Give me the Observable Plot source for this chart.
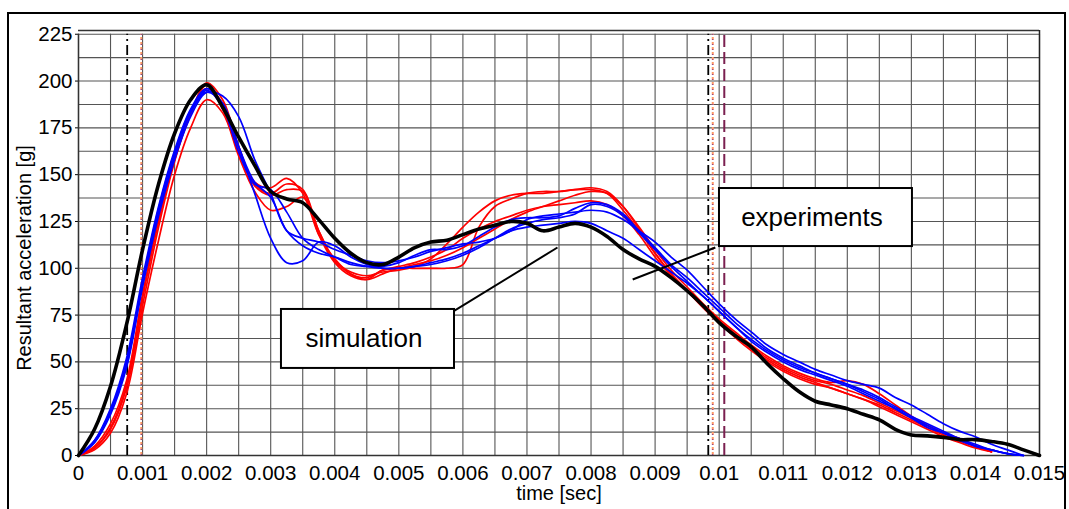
<!DOCTYPE html>
<html><head><meta charset="utf-8">
<script src="https://cdn.jsdelivr.net/npm/d3@7"></script>
<script src="https://cdn.jsdelivr.net/npm/@observablehq/plot@0.6"></script>
<style>
body{margin:0;background:#fff;}
#wrap{position:relative;width:1069px;height:509px;overflow:hidden;font-family:"Liberation Sans",Arial,sans-serif;}
#chart{position:absolute;left:0;top:0;}
#chart g[aria-label="x-axis tick label"], #chart g[aria-label="y-axis tick label"]{font-size:20.5px;}
#frame{position:absolute;left:7px;top:12px;width:1059px;height:600px;border:2px solid #000;box-sizing:border-box;pointer-events:none;}
#titles{position:absolute;left:0;top:0;pointer-events:none;font-family:"Liberation Sans",Arial,sans-serif;}
</style></head>
<body>
<div id="wrap">
<div id="chart"></div>
<svg id="titles" width="1069" height="509">
  <text x="31" y="258" transform="rotate(-90 31 258)" text-anchor="middle" font-size="20" fill="#000">Resultant acceleration [g]</text>
  <text x="559" y="500" text-anchor="middle" font-size="20" fill="#000">time [sec]</text>
</svg>
<div id="frame"></div>
</div>
<script>
// time samples [sec]
const time = [0,0.00025,0.0005,0.00075,0.001,0.00125,0.0015,0.00175,0.002,0.00225,
  0.0025,0.00275,0.003,0.00325,0.0035,0.00375,0.004,0.00425,0.0045,0.00475,
  0.005,0.00525,0.0055,0.00575,0.006,0.00625,0.0065,0.00675,0.007,0.00725,
  0.0075,0.00775,0.008,0.00825,0.0085,0.00875,0.009,0.00925,0.0095,0.00975,
  0.01,0.01025,0.0105,0.01075,0.011,0.01125,0.0115,0.01175,0.012,0.01225,
  0.0125,0.01275,0.013,0.01325,0.0135,0.01375,0.014,0.01425,0.0145,0.01475,0.015];

// simulation (black)
const simulation = [0,14,37,70,110,145,172,190,198,186,170,155,141,137,135,126,116,108,103,102,
  106,111,114,115,118,121,123,125,124,120,122,124,122,117,110,105,101,95,88,80,
  71,64,58,49,41,34,29,27,25,22,19,14,11,10.5,9.7,8.5,8.5,7.5,6,3,0];

// experiments, red
const red1 = [0,4,14,36,80,122,157,183,198,185,162,146,143,148,140,118,105,97,95,99,
  101,103,106,110,116,121,125,128,131,133,134,135,136,134,128,118,106,96,88,80,
  72,65,58,52,47,43,40,38,35,32,28,24,20,16,12,9,5,2];
const red2 = [0,3,12,33,76,115,150,175,190,183,160,141,131,133,138,120,104,97,94,97,
  100,100,100,100,102,122,133,137,140,141,141,142,142,140,131,120,108,97,88,79,
  71,63,56,50,45,41,38,36,33,30,27,23,19,15,11,8,5,2];
const red3 = [0,4,15,38,84,125,158,182,199,190,165,145,140,145,142,120,104,98,96,98,
  99,101,105,113,122,130,136,139,140,140,141,142,143,141,133,121,108,97,88,79,
  71,64,57,51,46,42,39,36,33,30,26,22,18,14,10,7,4,2];
const red4 = [0,5,17,40,86,127,160,184,196,188,163,144,139,142,141,118,103,96,94,99,
  100,102,104,107,111,116,121,126,130,133,136,139,141,140,133,122,110,99,90,81,
  73,66,59,53,48,44,41,39,40,38,33,27,21,16,12,8,5,2];

// experiments, blue
const blue1 = [0,8,24,50,93,132,162,184,194,188,165,140,116,103,104,114,112,106,102,100,
  100,101,103,105,108,112,116,120,122,123,124,125,124,120,116,110,104,98,92,85,
  77,69,62,56,51,47,44,41,38,34,30,25,20,16,12,9,5,3,1,0];
const blue2 = [0,7,22,47,90,128,158,181,194,192,181,158,140,120,116,114,110,107,104,103,
  104,106,109,111,113,114,116,120,126,128,129,130,131,130,126,120,114,106,99,90,
  81,73,66,59,54,50,46,43,40,38,36,31,27,22,17,13,10,6,3,0];
const blue3 = [0,8,25,52,95,133,163,185,196,188,165,146,138,120,112,108,106,103,101,100,
  100,101,102,104,107,111,116,121,124,126,127,129,134,133,128,119,110,101,93,85,
  77,69,61,55,50,46,43,40,37,33,29,25,20,15,12,8,5,3,1,0];
const blue4 = [0,7,23,48,92,130,160,183,195,186,162,145,142,130,116,110,106,102,101,101,
  103,107,110,110,112,117,122,126,127,127,128,132,135,134,129,120,111,102,95,87,
  79,71,64,57,52,48,44,41,38,35,31,26,21,17,13,9,6,3,1,0];

const redSeries = [red1, red2, red3, red4];
const blueSeries = [blue1, blue2, blue3, blue4];

// axes
const xTicks = [0,0.001,0.002,0.003,0.004,0.005,0.006,0.007,0.008,0.009,0.01,0.011,0.012,0.013,0.014,0.015];
const yTicks = [0,25,50,75,100,125,150,175,200,225];
const xGrid = [0,0.0005,0.001,0.0015,0.002,0.0025,0.003,0.0035,0.004,0.0045,0.005,0.0055,0.006,0.0065,0.007,0.0075,
  0.008,0.0085,0.009,0.0095,0.01,0.0105,0.011,0.0115,0.012,0.0125,0.013,0.0135,0.014,0.0145,0.015];
const yGrid = [12.5,25,37.5,50,62.5,75,87.5,100,112.5,125,137.5,150,162.5,175,187.5,200,212.5,225];

// vertical reference lines (time)
const blackMarks = [0.00076, 0.00983];
const orangeMarks = [0.00098, 0.0099];
const purpleMarks = [0.01008];

// annotations
const notes = [
  {text:"experiments", x1:0.010005, x2:0.013017, y1:111.6, y2:142.6, lx1:0.00865, ly1:94, lx2:0.00994, ly2:111.1},
  {text:"simulation", x1:0.003168, x2:0.005869, y1:46.5, y2:78.0, lx1:0.005869, ly1:77.4, lx2:0.007476, ly2:111.1}
];

const toRows = (arr, id) => arr.map((v, i) => ({t: time[i], v, id}));
const redRows = redSeries.flatMap((s, k) => toRows(s, "r" + k));
const blueRows = blueSeries.flatMap((s, k) => toRows(s, "b" + k));
const simRows = toRows(simulation, "sim");

const gridColor = "#555555";
const chart = Plot.plot({
  width: 1069, height: 509,
  marginLeft: 78, marginRight: 30, marginTop: 30, marginBottom: 54,
  style: {fontFamily: "'Liberation Sans', Arial, sans-serif", fontSize: "20px", color: "#000", background: "#fff"},
  x: {domain: [0, 0.015], ticks: xTicks, tickFormat: d3.format("~g"), tickSize: 0, tickPadding: 10, label: null},
  y: {domain: [0, 227], ticks: yTicks, tickSize: 3, tickPadding: 3, label: null},
  marks: [
    Plot.ruleX(xGrid, {y1: 0, y2: 225, stroke: gridColor, strokeWidth: 1.1, strokeOpacity: 1}),
    Plot.ruleY(yGrid, {stroke: gridColor, strokeWidth: 1.1, strokeOpacity: 1}),
    Plot.ruleY([227], {stroke: "#333", strokeWidth: 1.5}),
    Plot.ruleX([0.015], {stroke: "#222", strokeWidth: 1.5}),
    Plot.ruleX([0], {y1: 0, y2: 225, stroke: "#333", strokeWidth: 1.5}),
    Plot.ruleY([0], {stroke: "#333", strokeWidth: 1.5}),
    Plot.ruleX(blackMarks, {y1: 0, y2: 225, stroke: "#000", strokeWidth: 1.8, strokeDasharray: "10,4,2,4"}),
    Plot.ruleX(orangeMarks, {y1: 0, y2: 225, stroke: "#ff9966", strokeWidth: 2, strokeDasharray: "3,2"}),
    Plot.ruleX(orangeMarks, {y1: 0, y2: 225, stroke: "#7030a0", strokeWidth: 1, strokeDasharray: "1,4"}),
    Plot.ruleX(purpleMarks, {y1: 0, y2: 225, stroke: "#7b2050", strokeWidth: 2, strokeDasharray: "12,5"}),
    Plot.line(redRows, {x: "t", y: "v", z: "id", stroke: "#ff0000", strokeWidth: 1.7, curve: "catmull-rom"}),
    Plot.line(blueRows, {x: "t", y: "v", z: "id", stroke: "#0000ff", strokeWidth: 1.7, curve: "catmull-rom"}),
    Plot.line(simRows, {x: "t", y: "v", stroke: "#000", strokeWidth: 3.6, curve: "catmull-rom"}),
    Plot.link(notes, {x1: "lx1", y1: "ly1", x2: "lx2", y2: "ly2", stroke: "#000", strokeWidth: 2}),
    Plot.rect(notes, {x1: "x1", x2: "x2", y1: "y1", y2: "y2", fill: "#fff", stroke: "#000", strokeWidth: 2}),
    Plot.text(notes, {x: d => (d.x1 + d.x2) / 2, y: d => (d.y1 + d.y2) / 2, text: "text", fontSize: 26, dx: -4, fill: "#000"})
  ]
});
document.getElementById("chart").appendChild(chart);
</script>
</body></html>
